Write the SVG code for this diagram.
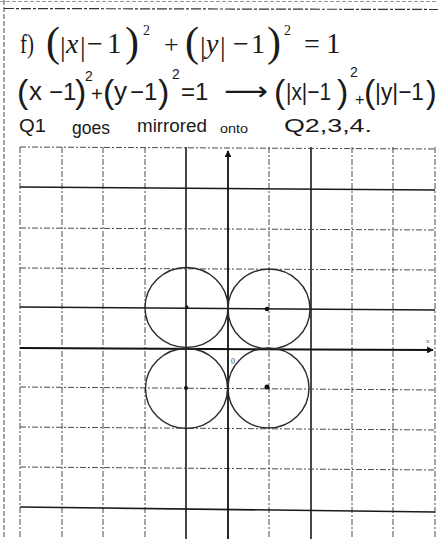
<svg xmlns="http://www.w3.org/2000/svg" width="438" height="539" viewBox="0 0 438 539">
<style>
.serif{font-family:"Liberation Serif","Times New Roman",serif;fill:#1a1a1a}
.hand{font-family:"Liberation Sans",Arial,sans-serif;fill:#1a1a1a}
.faint{stroke:#4a4a4a;stroke-width:1;stroke-dasharray:6 2 2 2;fill:none}
.heavy{stroke:#1a1a1a;stroke-width:1.6;fill:none}
.curve{stroke:#2a2a2a;stroke-width:1.4;fill:none}
.dot{fill:#111}
</style>
<defs>
<marker id="ah" viewBox="0 0 10 10" refX="9" refY="5" markerWidth="7" markerHeight="7" orient="auto" markerUnits="userSpaceOnUse">
<path d="M0,0 L10,5 L0,10 z" fill="#111"/>
</marker>
</defs>
<rect width="438" height="539" fill="#ffffff"/>
<g id="page-border">
<line x1="0" y1="1.5" x2="438" y2="1.5" stroke="#999" stroke-width="1" stroke-dasharray="4 2"/>
<line x1="4" y1="0" x2="4" y2="539" stroke="#666" stroke-width="1.2" stroke-dasharray="5 2"/>
<line x1="4" y1="8.5" x2="438" y2="9.5" stroke="#333" stroke-width="1.2" stroke-dasharray="10 2 3 2"/>
</g>
<g id="equation">
<text class="serif" x="20" y="53" font-size="27" textLength="14" lengthAdjust="spacingAndGlyphs">f)</text>
<text class="serif" x="46" y="56" font-size="42">(</text>
<text class="serif" x="60" y="56" font-size="28">|</text>
<text class="serif" x="66" y="53" font-size="28" font-style="italic">x</text>
<text class="serif" x="80" y="56" font-size="28">|</text>
<text class="serif" x="87" y="53" font-size="28">−</text>
<text class="serif" x="107" y="53" font-size="29">1</text>
<text class="serif" x="125" y="56" font-size="42">)</text>
<text class="serif" x="143" y="35" font-size="14">2</text>
<text class="serif" x="164" y="53" font-size="26">+</text>
<text class="serif" x="185" y="56" font-size="42">(</text>
<text class="serif" x="200" y="56" font-size="28">|</text>
<text class="serif" x="206" y="53" font-size="28" font-style="italic">y</text>
<text class="serif" x="220" y="56" font-size="28">|</text>
<text class="serif" x="233" y="53" font-size="28">−</text>
<text class="serif" x="251" y="53" font-size="28">1</text>
<text class="serif" x="267" y="56" font-size="42">)</text>
<text class="serif" x="284" y="35" font-size="14">2</text>
<text class="serif" x="304" y="53" font-size="28">=</text>
<text class="serif" x="326" y="53" font-size="29">1</text>
</g>
<g id="working">
<text class="hand" x="17" y="103" font-size="34">(</text>
<text class="hand" x="29" y="100" font-size="26">x</text>
<text class="hand" x="49" y="100" font-size="24">−1</text>
<text class="hand" x="75" y="103" font-size="34">)</text>
<text class="hand" x="85" y="81" font-size="14">2</text>
<text class="hand" x="91" y="101" font-size="20">+</text>
<text class="hand" x="103" y="103" font-size="34">(</text>
<text class="hand" x="114" y="100" font-size="26">y</text>
<text class="hand" x="130" y="100" font-size="24">−1</text>
<text class="hand" x="158" y="103" font-size="34">)</text>
<text class="hand" x="172" y="79" font-size="14">2</text>
<text class="hand" x="181" y="100" font-size="24">=1</text>
<text x="224" y="100" font-size="26" font-family="'DejaVu Sans',sans-serif" fill="#1a1a1a" textLength="44" lengthAdjust="spacingAndGlyphs">⟶</text>
<text class="hand" x="274" y="103" font-size="34">(</text>
<text class="hand" x="286" y="100" font-size="24" textLength="45" lengthAdjust="spacingAndGlyphs">|x|−1</text>
<text class="hand" x="337" y="103" font-size="34">)</text>
<text class="hand" x="350" y="77" font-size="14">2</text>
<text class="hand" x="355" y="105" font-size="16">+</text>
<text class="hand" x="364" y="103" font-size="34">(</text>
<text class="hand" x="375" y="100" font-size="24" textLength="49" lengthAdjust="spacingAndGlyphs">|y|−1</text>
<text class="hand" x="426" y="103" font-size="32">)</text>
</g>
<g id="note">
<text class="hand" x="19" y="132" font-size="19" textLength="27" lengthAdjust="spacingAndGlyphs">Q1</text>
<text class="hand" x="72" y="134" font-size="18" textLength="38" lengthAdjust="spacingAndGlyphs">goes</text>
<text class="hand" x="137" y="132" font-size="18" textLength="70" lengthAdjust="spacingAndGlyphs">mirrored</text>
<text class="hand" x="220" y="133" font-size="13" textLength="28" lengthAdjust="spacingAndGlyphs">onto</text>
<text class="hand" x="284" y="132" font-size="19" textLength="88" lengthAdjust="spacingAndGlyphs">Q2,3,4.</text>
</g>
<g id="grid">
<line class="faint" x1="20" y1="147" x2="20" y2="539"/>
<line class="faint" x1="62" y1="147" x2="62" y2="539"/>
<line class="faint" x1="103" y1="147" x2="103" y2="539"/>
<line class="faint" x1="145" y1="147" x2="145" y2="539"/>
<line class="heavy" x1="186" y1="147" x2="186" y2="539"/>
<line class="faint" x1="269" y1="147" x2="269" y2="539"/>
<line class="heavy" x1="311" y1="147" x2="311" y2="539"/>
<line class="faint" x1="352" y1="147" x2="352" y2="539"/>
<line class="faint" x1="393" y1="147" x2="393" y2="539"/>
<line class="faint" x1="435" y1="147" x2="435" y2="539"/>
<line class="faint" x1="20" y1="147" x2="435" y2="149"/>
<line class="heavy" x1="20" y1="187" x2="435" y2="190"/>
<line class="faint" x1="20" y1="228" x2="435" y2="230"/>
<line class="faint" x1="20" y1="268" x2="435" y2="270"/>
<line class="heavy" x1="20" y1="307" x2="435" y2="310"/>
<line class="faint" x1="20" y1="387" x2="435" y2="390"/>
<line class="faint" x1="20" y1="427" x2="435" y2="430"/>
<line class="faint" x1="20" y1="467" x2="435" y2="470"/>
<line class="heavy" x1="20" y1="507" x2="435" y2="512"/>
</g>
<g id="axes">
<line x1="20" y1="348" x2="433" y2="350" stroke="#111" stroke-width="2" marker-end="url(#ah)"/>
<line x1="228" y1="539" x2="228" y2="151" stroke="#111" stroke-width="1.8" marker-end="url(#ah)"/>
<text x="231" y="364" font-size="8" font-family="'Liberation Serif',serif" fill="#444">0</text>
<text x="426" y="343" font-size="7" font-family="'Liberation Serif',serif" fill="#666">x</text>
</g>
<g id="circle-q2">
<ellipse class="curve" cx="186.5" cy="307.5" rx="41.5" ry="40"/>
<circle class="dot" cx="187" cy="307" r="1.4"/>
</g>
<g id="circle-q1">
<ellipse class="curve" cx="269" cy="309" rx="41" ry="40"/>
<circle class="dot" cx="267" cy="309" r="2.3"/>
</g>
<g id="circle-q3">
<ellipse class="curve" cx="186.5" cy="388.5" rx="41" ry="40"/>
<circle class="dot" cx="186" cy="388" r="2"/>
</g>
<g id="circle-q4">
<ellipse class="curve" cx="268.5" cy="388" rx="40.5" ry="40"/>
<circle class="dot" cx="267" cy="387" r="2.5"/>
</g>
</svg>
